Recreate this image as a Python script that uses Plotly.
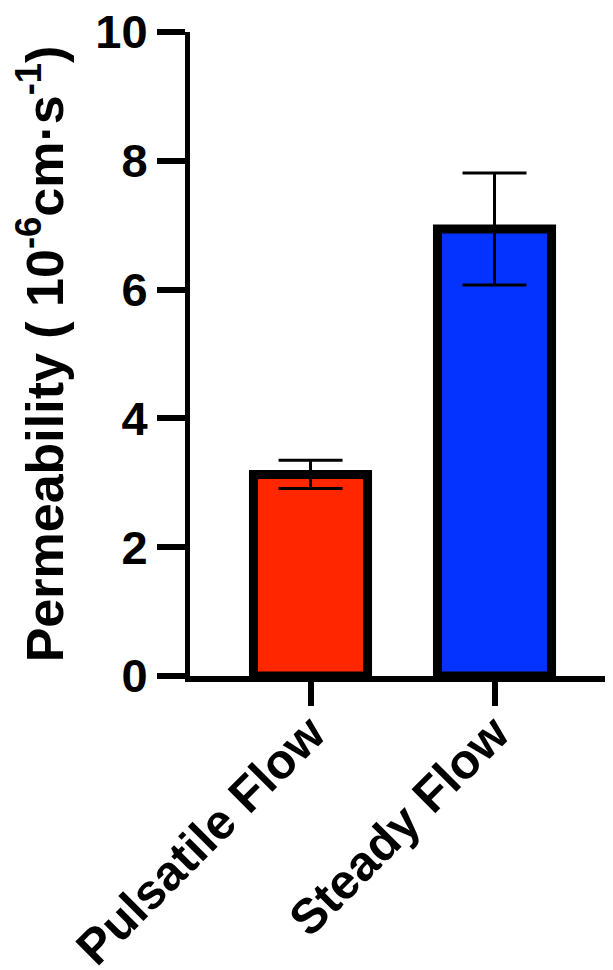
import plotly.graph_objects as go

categories = ["Pulsatile Flow", "Steady Flow"]
values = [3.13, 6.94]
errors = [0.22, 0.87]
colors = ["#FF2600", "#0433FF"]
y_ticks = [0, 2, 4, 6, 8, 10]

FONT = "Arial, 'Liberation Sans', Helvetica, sans-serif"

fig = go.Figure()
fig.add_trace(go.Bar(
    x=categories,
    y=values,
    width=0.62,
    marker=dict(color=colors, line=dict(color="black", width=9)),
    error_y=dict(type="data", array=errors, visible=True,
                 color="black", thickness=3, width=32),
))

fig.update_layout(
    width=605, height=962,
    margin=dict(l=182, r=0, t=24, b=294),
    plot_bgcolor="white", paper_bgcolor="white",
    showlegend=False,
    font=dict(family=FONT, color="black", size=48, weight="bold"),
)
fig.update_xaxes(
    type="category",
    range=[-0.655, 1.644],
    automargin=False,
    showline=True, linecolor="black", linewidth=6,
    ticks="outside", ticklen=24, tickwidth=6, tickcolor="black",
    tickangle=-45,
    tickfont=dict(family=FONT, size=49, color="black", weight="bold"),
    ticklabeloverflow="allow",
    ticklabelstandoff=-21,
    showgrid=False, zeroline=False,
)
fig.update_yaxes(
    range=[0, 10],
    tickvals=y_ticks,
    automargin=False,
    showline=True, linecolor="black", linewidth=5,
    ticks="outside", ticklen=28, tickwidth=6, tickcolor="black",
    tickfont=dict(family=FONT, size=47, color="black", weight="bold"),
    ticklabeloverflow="allow",
    showgrid=False, zeroline=False,
    title=dict(text="Permeability ( 10<sup>-6</sup>cm·s<sup>-1</sup>)",
               font=dict(family=FONT, size=52, color="black", weight="bold"),
               standoff=52),
)

fig.write_html("out.html")
